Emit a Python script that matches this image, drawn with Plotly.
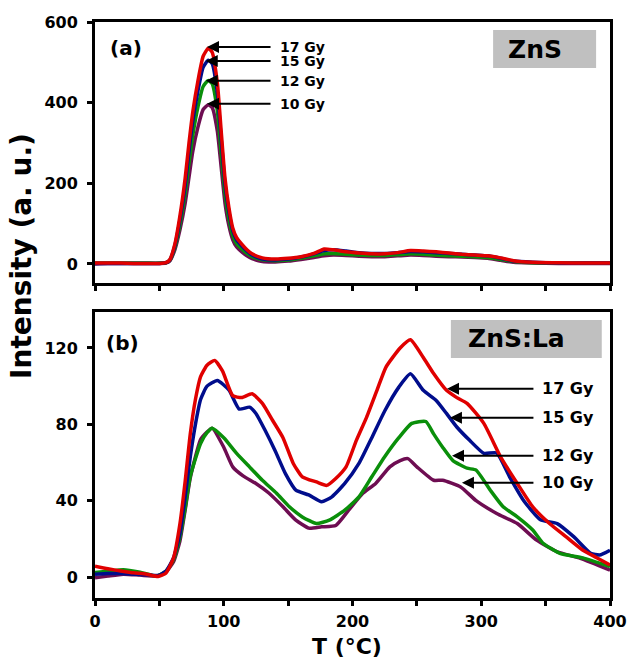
import plotly.graph_objects as go

# ---------------- data ----------------
doses = ["17 Gy", "15 Gy", "12 Gy", "10 Gy"]
colors = {"17 Gy": "#e00000", "15 Gy": "#000d8c", "12 Gy": "#0a8f0a", "10 Gy": "#6e0d52"}

# (a) ZnS
T_a = [0, 10, 20, 30, 40, 50, 55, 58, 62, 66, 70, 73, 76, 80, 84, 88, 91, 95, 98, 101,
       104, 107, 110, 114, 118, 122, 130, 140, 150, 160, 170, 178, 185, 195, 205, 215,
       225, 235, 245, 255, 265, 275, 285, 295, 305, 315, 325, 340, 360, 380, 400]
zns_17 = [2, 2, 2, 1, 1, 1, 3, 10, 49, 120, 212, 300, 378, 455, 515, 535, 525, 450, 330, 212,
          140, 89, 65, 49, 35, 25, 15, 12, 14, 18, 26, 37, 35, 30, 27, 25,
          25, 28, 33, 32, 30, 27, 24, 22, 20, 15, 8, 4, 3, 2, 2]
zns_15 = [1, 1, 1, 1, 1, 1, 3, 9, 45, 110, 195, 280, 355, 430, 488, 505, 497, 425, 310, 198,
          130, 83, 60, 45, 32, 22, 12, 10, 12, 17, 25, 33, 35, 32, 28, 26,
          26, 28, 31, 30, 28, 26, 24, 22, 20, 14, 7, 4, 2, 2, 2]
zns_12 = [2, 2, 2, 2, 2, 2, 3, 8, 40, 98, 175, 250, 320, 390, 440, 455, 447, 380, 275, 175,
          112, 70, 50, 37, 26, 18, 10, 8, 10, 14, 20, 25, 26, 24, 22, 21,
          21, 23, 25, 24, 22, 20, 19, 18, 16, 11, 6, 3, 2, 2, 2]
zns_10 = [0, 1, 1, 1, 1, 1, 2, 7, 35, 85, 150, 215, 280, 340, 383, 395, 388, 330, 240, 150,
          95, 60, 42, 30, 20, 13, 6, 5, 7, 11, 16, 20, 22, 21, 19, 18,
          18, 20, 22, 21, 19, 18, 17, 16, 14, 9, 4, 2, 1, 1, 1]

# (b) ZnS:La
T_b17 = [0, 10, 20, 30, 40, 49, 55, 61, 66, 70, 74, 78, 82, 87, 93, 99, 107, 114, 122, 130,
         138, 146, 154, 161, 172, 180, 187, 195, 203, 211, 219, 226, 237, 245, 255, 263,
         273, 281, 289, 302, 315, 328, 340, 353, 366, 379, 390, 400]
la_17 = [5.6, 4.3, 3.2, 2.2, 1.5, 0.3, 2, 10, 28, 50, 75, 93, 105, 111, 113.5, 108, 95, 94, 96, 91,
         82, 73, 59.5, 52.5, 49.8, 48, 51.6, 57.7, 71.6, 83.8, 97.8, 110, 120, 124.3, 115, 106.6,
         97.8, 94, 91, 80.5, 63, 49, 36.8, 28, 21, 14, 10, 6.3]
T_b15 = [0, 10, 20, 30, 40, 49, 55, 61, 66, 70, 74, 78, 82, 87, 95, 104, 112, 120, 125, 132,
         140, 148, 156, 166, 176, 184, 194, 205, 215, 225, 236, 245, 255, 265, 273, 281,
         291, 302, 312, 322, 333, 346, 359, 372, 385, 392, 400]
la_15 = [1.5, 1.8, 1.8, 1.5, 1.2, 0.8, 3, 10, 23, 42, 63, 80, 93, 100, 103, 98, 88, 89, 85.7, 77,
         66, 54, 45.5, 43, 39.4, 42, 49, 59.5, 73, 87, 99.5, 106.5, 97.8, 92.5, 85.7, 78.6,
         71.6, 64.8, 65, 52.5, 40, 30, 28, 21, 12.4, 11.5, 14]
T_b12 = [0, 10, 22, 35, 48, 55, 61, 66, 70, 74, 82, 87, 91, 100, 110, 120, 130, 141, 151, 161,
         172, 182, 194, 205, 215, 225, 236, 246, 257, 263, 270, 278, 289, 296, 307, 317,
         328, 340, 348, 361, 379, 400]
la_12 = [2.4, 3.0, 3.8, 2.5, 0.5, 3, 9, 21, 36, 52.7, 70, 75.6, 78, 73, 64.8, 57.7, 50.7, 43.9, 36.8, 31.5,
         28, 29.8, 35, 42, 52.5, 63, 73, 80.5, 81.5, 75, 68, 61, 57, 56, 45.5, 36.8,
         31.5, 24.6, 17.7, 12.4, 10, 5.4]
T_b10 = [0, 10, 22, 35, 48, 55, 61, 66, 70, 74, 82, 87, 91, 100, 107, 115, 125, 135, 146, 156,
         166, 176, 187, 197, 208, 218, 229, 237, 243, 250, 263, 270, 284, 296, 312, 328,
         343, 359, 377, 400]
la_10 = [-0.4, 0.5, 1.5, 1.0, 0.5, 2.5, 8, 19, 35, 52, 72, 76, 78, 68, 57.7, 53, 49, 44, 36.8, 29.8,
         25.6, 26.3, 27, 35, 43.9, 49, 57.7, 61, 62, 57.7, 50.7, 50.7, 47.2, 40, 33.3, 28,
         19.3, 13.2, 9.8, 3.6]

x_ticks = [0, 50, 100, 150, 200, 250, 300, 350, 400]
x_tick_text = ["0", "", "100", "", "200", "", "300", "", "400"]
ya_ticks = [0, 200, 400, 600]
yb_ticks = [0, 40, 80, 120]

# arrow annotations: (dose, head T, head value)
arrows_a = [("17 Gy", 87, 538), ("15 Gy", 86, 503), ("12 Gy", 86, 454), ("10 Gy", 87, 397)]
arrows_b = [("17 Gy", 273.4, 98.7), ("15 Gy", 275.7, 83.5), ("12 Gy", 277.3, 63.6), ("10 Gy", 285, 49.4)]
tail_a, text_a = 137.5, 142
tail_b, text_b = 341.7, 345.6

# ---------------- figure ----------------
FONT = "DejaVu Sans"
fig = go.Figure()

series_a = {"17 Gy": zns_17, "15 Gy": zns_15, "12 Gy": zns_12, "10 Gy": zns_10}
series_b = {"17 Gy": (T_b17, la_17), "15 Gy": (T_b15, la_15),
            "12 Gy": (T_b12, la_12), "10 Gy": (T_b10, la_10)}

for d in reversed(doses):
    fig.add_trace(go.Scatter(x=T_a, y=series_a[d], mode="lines", name=d,
                             line=dict(color=colors[d], width=3.5, shape="spline", smoothing=0.5),
                             xaxis="x", yaxis="y", showlegend=False))
for d in reversed(doses):
    tx, vy = series_b[d]
    fig.add_trace(go.Scatter(x=tx, y=vy, mode="lines", name=d,
                             line=dict(color=colors[d], width=3.5, shape="spline", smoothing=0.5),
                             xaxis="x2", yaxis="y2", showlegend=False))

tickfont = dict(family=FONT, size=16, color="black", weight="bold")
axis_common = dict(showline=True, linewidth=3, linecolor="black", mirror=True,
                   ticks="outside", ticklen=5, tickwidth=3, tickcolor="black",
                   showgrid=False, zeroline=False, tickfont=tickfont, automargin=False)

fig.update_layout(
    width=628, height=664, autosize=False,
    margin=dict(l=95, r=18, t=22, b=66),
    paper_bgcolor="white", plot_bgcolor="white",
    xaxis=dict(domain=[0, 1], range=[0, 400], anchor="y", tickvals=x_ticks,
               showticklabels=False, **axis_common),
    yaxis=dict(domain=[0.5464, 1], range=[-48, 600], anchor="x", tickvals=ya_ticks,
               ticklabelstandoff=6, **axis_common),
    xaxis2=dict(domain=[0, 1], range=[0, 400], anchor="y2", tickvals=x_ticks,
                ticktext=x_tick_text, ticklabelstandoff=2, ticklabeloverflow="allow",
                **axis_common),
    yaxis2=dict(domain=[0, 0.4970], range=[-11, 139], anchor="x2", tickvals=yb_ticks,
                ticklabelstandoff=6, **axis_common),
)

ann = []
for (d, hx, hy) in arrows_a:
    ann.append(dict(x=hx, y=hy, ax=tail_a, ay=hy, xref="x", yref="y", axref="x", ayref="y",
                    text="", showarrow=True, arrowhead=2, arrowsize=1.2, arrowwidth=2,
                    arrowcolor="black"))
    ann.append(dict(x=text_a, y=hy, xref="x", yref="y", text=d, showarrow=False,
                    xanchor="left", yanchor="middle",
                    font=dict(family=FONT, size=14, color="black", weight="bold")))
for (d, hx, hy) in arrows_b:
    ann.append(dict(x=hx, y=hy, ax=tail_b, ay=hy, xref="x2", yref="y2", axref="x2", ayref="y2",
                    text="", showarrow=True, arrowhead=2, arrowsize=1.2, arrowwidth=2,
                    arrowcolor="black"))
    ann.append(dict(x=text_b, y=hy, xref="x2", yref="y2", text=d, showarrow=False,
                    xanchor="left", yanchor="middle",
                    font=dict(family=FONT, size=16, color="black", weight="bold")))

ann.append(dict(x=0.060, y=0.900, xref="x domain", yref="y domain", text="(a)", showarrow=False,
                xanchor="center", yanchor="middle",
                font=dict(family=FONT, size=20, color="black", weight="bold")))
ann.append(dict(x=0.053, y=0.891, xref="x2 domain", yref="y2 domain", text="(b)", showarrow=False,
                xanchor="center", yanchor="middle",
                font=dict(family=FONT, size=20, color="black", weight="bold")))
ann.append(dict(x=0.855, y=0.896, xref="x domain", yref="y domain", text="ZnS", showarrow=False,
                xanchor="center", yanchor="middle",
                font=dict(family=FONT, size=25, color="black", weight="bold")))
ann.append(dict(x=0.819, y=0.905, xref="x2 domain", yref="y2 domain", text="ZnS:La", showarrow=False,
                xanchor="center", yanchor="middle",
                font=dict(family=FONT, size=25, color="black", weight="bold")))
ann.append(dict(x=-0.1417, y=0.594, xref="paper", yref="paper", text="Intensity (a. u.)",
                showarrow=False, textangle=-90, xanchor="center", yanchor="middle",
                font=dict(family=FONT, size=28, color="black", weight="bold")))
ann.append(dict(x=0.489, y=-0.085, xref="paper", yref="paper", text="T (°C)",
                showarrow=False, xanchor="center", yanchor="middle",
                font=dict(family=FONT, size=22, color="black", weight="bold")))
fig.update_layout(annotations=ann)

fig.update_layout(shapes=[
    dict(type="rect", xref="x domain", yref="y domain", x0=0.773, x1=0.973, y0=0.824, y1=0.969,
         fillcolor="#c0c0c0", line=dict(width=0), layer="below"),
    dict(type="rect", xref="x2 domain", yref="y2 domain", x0=0.691, x1=0.984, y0=0.838, y1=0.971,
         fillcolor="#c0c0c0", line=dict(width=0), layer="below"),
])

# remove the page's default body margin so the 628x664 figure fills the window exactly
fig.write_html("out.html",
               config={"responsive": False, "displayModeBar": False},
               post_script="document.body.style.margin='0';document.body.style.overflow='hidden';")
